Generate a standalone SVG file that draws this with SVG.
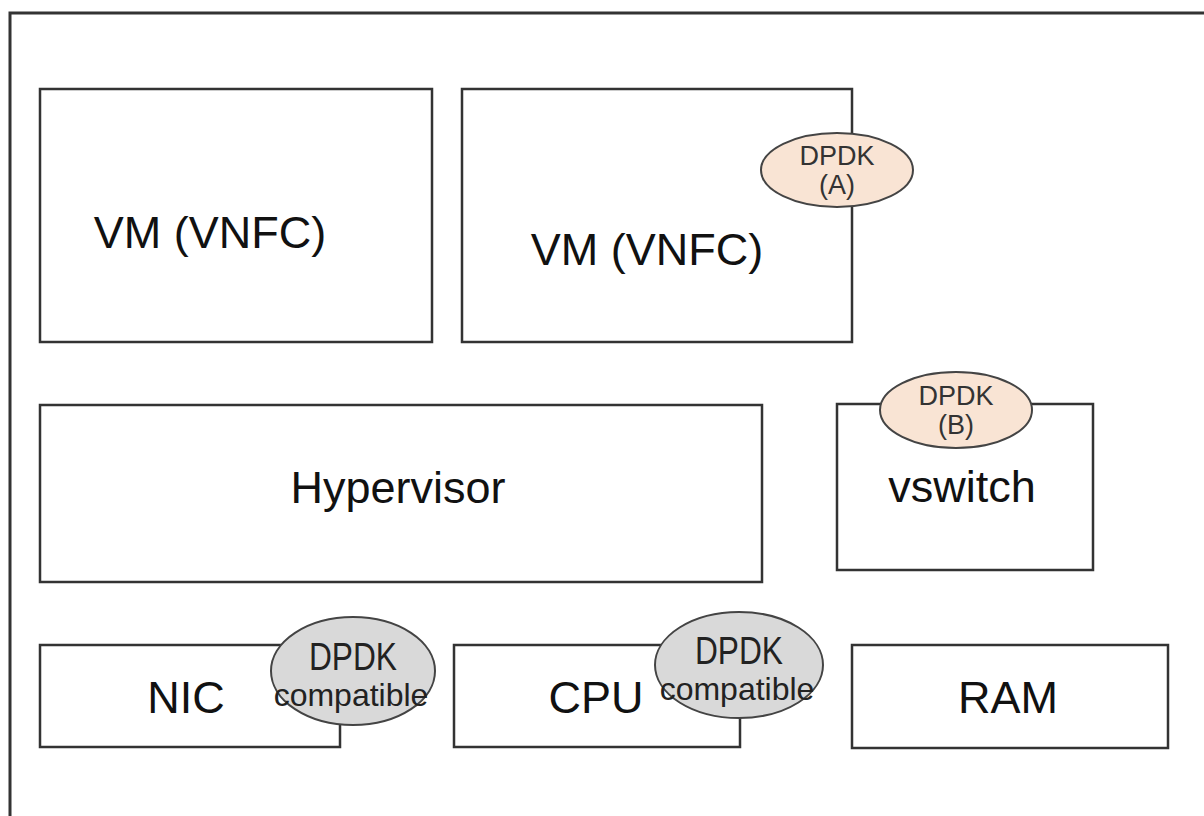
<svg xmlns="http://www.w3.org/2000/svg" width="1204" height="816" viewBox="0 0 1204 816">
<style>
.box{fill:#fff;stroke:#333;stroke-width:2.5}
.frame{fill:#fff;stroke:#333;stroke-width:3}
.peach{fill:#f9e4d4;stroke:#444;stroke-width:2}
.grey{fill:#d9d9d9;stroke:#444;stroke-width:2}
.big{font-family:"Liberation Sans",Arial,sans-serif;font-size:45px;fill:#111;text-anchor:middle}
.small{font-family:"Liberation Sans",Arial,sans-serif;font-size:27px;fill:#333;text-anchor:middle}
.dp{font-family:"Liberation Sans",Arial,sans-serif;font-size:38px;fill:#222;text-anchor:middle}
.comp{font-family:"Liberation Sans",Arial,sans-serif;font-size:32px;fill:#222;text-anchor:middle}
</style>
<rect x="0" y="0" width="1204" height="816" fill="#fff"/>
<rect class="frame" x="10" y="13" width="1300" height="900"/>
<g id="vm1">
<rect class="box" x="40" y="89" width="392" height="253"/>
<text class="big" x="210" y="248">VM (VNFC)</text>
</g>
<g id="vm2">
<rect class="box" x="462" y="89" width="390" height="253"/>
<text class="big" x="647" y="265">VM (VNFC)</text>
</g>
<g id="dpdk-a">
<ellipse class="peach" cx="837" cy="170" rx="76" ry="37"/>
<text class="small" x="837" y="165">DPDK</text>
<text class="small" x="837" y="194">(A)</text>
</g>
<g id="hypervisor">
<rect class="box" x="40" y="405" width="722" height="177"/>
<text class="big" x="398" y="503">Hypervisor</text>
</g>
<g id="vswitch">
<rect class="box" x="837" y="404" width="256" height="166"/>
<text class="big" x="962" y="502">vswitch</text>
</g>
<g id="dpdk-b">
<ellipse class="peach" cx="956" cy="410" rx="76" ry="38"/>
<text class="small" x="956" y="405">DPDK</text>
<text class="small" x="956" y="434">(B)</text>
</g>
<g id="nic">
<rect class="box" x="40" y="645" width="300" height="102"/>
<text class="big" x="186" y="713">NIC</text>
</g>
<g id="nic-dpdk">
<ellipse class="grey" cx="353" cy="671" rx="82" ry="54"/>
<text class="dp" x="353" y="670" textLength="88" lengthAdjust="spacingAndGlyphs">DPDK</text>
<text class="comp" x="351" y="706">compatible</text>
</g>
<g id="cpu">
<rect class="box" x="454" y="645" width="286" height="102"/>
<text class="big" x="596" y="713">CPU</text>
</g>
<g id="cpu-dpdk">
<ellipse class="grey" cx="739" cy="665" rx="84" ry="53"/>
<text class="dp" x="739" y="664" textLength="88" lengthAdjust="spacingAndGlyphs">DPDK</text>
<text class="comp" x="737" y="700">compatible</text>
</g>
<g id="ram">
<rect class="box" x="852" y="645" width="316" height="103"/>
<text class="big" x="1008" y="713">RAM</text>
</g>
<g id="connectors"></g>
</svg>
